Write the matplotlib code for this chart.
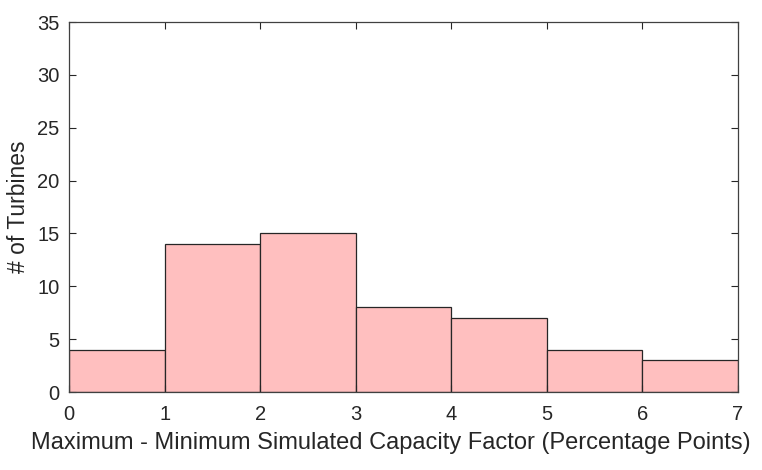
import matplotlib
matplotlib.use("Agg")
from matplotlib import pyplot as plt
import numpy as np

# histogram bin edges and counts
bin_edges = [0, 1, 2, 3, 4, 5, 6, 7]
turbine_counts = [4, 14, 15, 8, 7, 4, 3]

plt.rcParams['font.family'] = ['Liberation Sans', 'DejaVu Sans']

fig = plt.figure(figsize=(7.62, 4.70), dpi=100)
ax = fig.add_axes([69 / 762, 1 - 392 / 470, (738 - 69) / 762, (392 - 22) / 470])

widths = np.diff(bin_edges)
ax.bar(bin_edges[:-1], turbine_counts, width=widths, align='edge',
       color='#ffbfbf', edgecolor='#262626', linewidth=0.9)

ax.set_xlim(0, 7)
ax.set_ylim(0, 35)
ax.set_xticks(range(0, 8))
ax.set_yticks(range(0, 36, 5))

ax.tick_params(direction='in', length=5, width=0.8, colors='#262626',
               labelsize=14.5, top=True, right=True, pad=7)
ax.tick_params(axis='x', pad=9)
for side in ax.spines.values():
    side.set_color('#404040')
    side.set_linewidth(0.9)

ax.set_xlabel("Maximum - Minimum Simulated Capacity Factor (Percentage Points)",
              fontsize=17, color='#262626', labelpad=6)
ax.xaxis.label.set_x(0.481)
ax.set_ylabel("# of Turbines", fontsize=16.5, color='#262626', labelpad=5)

fig.savefig("out.png", dpi=100)
